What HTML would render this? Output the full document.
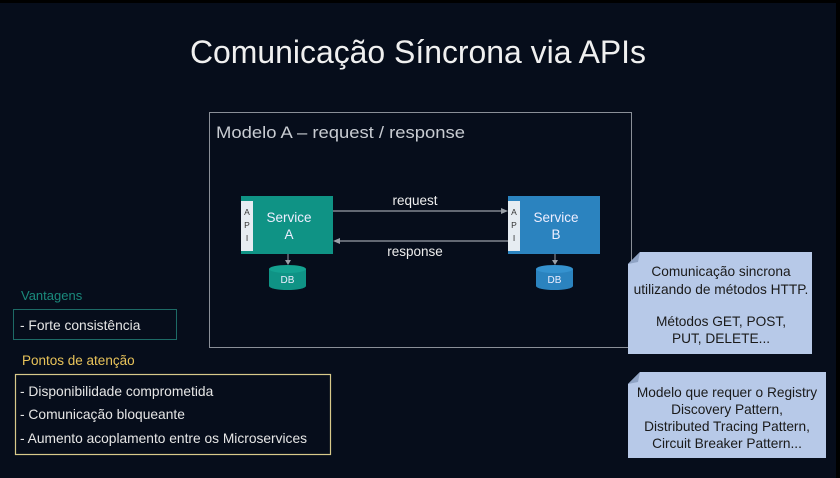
<!DOCTYPE html>
<html><head><meta charset="utf-8"><style>
html,body{margin:0;padding:0;background:#060d1b;}
body{width:840px;height:478px;overflow:hidden;position:relative;font-family:"Liberation Sans","DejaVu Sans",sans-serif;}
</style></head><body>
<svg width="840" height="478" viewBox="0 0 840 478" xmlns="http://www.w3.org/2000/svg" style="position:absolute;left:0;top:0">
<rect x="0" y="0" width="840" height="478" fill="#060d1b"/>
<rect x="0" y="0" width="840" height="3" fill="#000"/>
<rect x="836" y="0" width="4" height="478" fill="#000"/>
<text x="418" y="63" text-anchor="middle" fill="#f0f0f0" font-size="32" textLength="456" lengthAdjust="spacingAndGlyphs">Comunicação Síncrona via APIs</text>
<rect x="209.5" y="112.5" width="422" height="235" fill="none" stroke="#8a8f98" stroke-width="1"/>
<text x="216" y="138" fill="#c8ccd2" font-size="17" textLength="249" lengthAdjust="spacingAndGlyphs">Modelo A – request / response</text>
<rect x="241" y="196" width="92" height="58" fill="#0f9385"/>
<rect x="241" y="201" width="12" height="50" fill="#e6ecf2"/>
<text x="247" y="215" text-anchor="middle" fill="#333" font-size="8.5">A</text>
<text x="247" y="228" text-anchor="middle" fill="#333" font-size="8.5">P</text>
<text x="247" y="241" text-anchor="middle" fill="#333" font-size="8.5">I</text>
<text x="289" y="222" text-anchor="middle" fill="#eef" font-size="13.5">Service</text>
<text x="289" y="239" text-anchor="middle" fill="#eef" font-size="13.5">A</text>
<rect x="508" y="196" width="92" height="58" fill="#2b83bf"/>
<rect x="508" y="201" width="12" height="50" fill="#e6ecf2"/>
<text x="514" y="215" text-anchor="middle" fill="#333" font-size="8.5">A</text>
<text x="514" y="228" text-anchor="middle" fill="#333" font-size="8.5">P</text>
<text x="514" y="241" text-anchor="middle" fill="#333" font-size="8.5">I</text>
<text x="556" y="222" text-anchor="middle" fill="#eef" font-size="13.5">Service</text>
<text x="556" y="239" text-anchor="middle" fill="#eef" font-size="13.5">B</text>
<line x1="333" y1="211" x2="502" y2="211" stroke="#9aa0a8" stroke-width="1.2"/>
<polygon points="508,211 501,208 501,214" fill="#9aa0a8"/>
<text x="415" y="205" text-anchor="middle" fill="#eee" font-size="13.5">request</text>
<line x1="339" y1="241" x2="508" y2="241" stroke="#9aa0a8" stroke-width="1.2"/>
<polygon points="333,241 340,238 340,244" fill="#9aa0a8"/>
<text x="415" y="256" text-anchor="middle" fill="#eee" font-size="13.5">response</text>
<line x1="288" y1="254" x2="288" y2="262" stroke="#9aa0a8"/>
<polygon points="288,265 285,260 291,260" fill="#9aa0a8"/>
<path d="M269,269 v17 a18.5,4 0 0 0 37,0 v-17" fill="#0f9385"/>
<ellipse cx="287.5" cy="269" rx="18.5" ry="4" fill="#14a291"/>
<text x="287.5" y="283" text-anchor="middle" fill="#eef" font-size="10">DB</text>
<line x1="555" y1="254" x2="555" y2="262" stroke="#9aa0a8"/>
<polygon points="555,265 552,260 558,260" fill="#9aa0a8"/>
<path d="M536,269 v17 a18.5,4 0 0 0 37,0 v-17" fill="#2b83bf"/>
<ellipse cx="554.5" cy="269" rx="18.5" ry="4" fill="#3592cf"/>
<text x="554.5" y="283" text-anchor="middle" fill="#eef" font-size="10">DB</text>
<text x="21" y="300" fill="#1a8a7c" font-size="13">Vantagens</text>
<rect x="13.5" y="309.5" width="163" height="30" fill="none" stroke="#1d6a66" stroke-width="1"/>
<text x="20" y="330" fill="#e6e6e6" font-size="13.8">- Forte consistência</text>
<text x="22" y="365" fill="#e8c35a" font-size="13.5">Pontos de atenção</text>
<rect x="15.5" y="374.5" width="315" height="80" fill="none" stroke="#d8c98a" stroke-width="1.2"/>
<text x="20" y="396" fill="#e6e6e6" font-size="13.8">- Disponibilidade comprometida</text>
<text x="20" y="419" fill="#e6e6e6" font-size="13.8">- Comunicação bloqueante</text>
<text x="20" y="443" fill="#e6e6e6" font-size="13.8" textLength="287" lengthAdjust="spacingAndGlyphs">- Aumento acoplamento entre os Microservices</text>
<path d="M640,252 H812 V354 H628 V264 Z" fill="#b7c9e8"/>
<path d="M628,264 L640,252 L638,262 Z" fill="#8fa3c4"/>
<g fill="#1a1a1a" font-size="13.7" text-anchor="middle">
<text x="721" y="276">Comunicação sincrona</text>
<text x="721" y="294">utilizando de métodos HTTP.</text>
<text x="721" y="326">Métodos GET, POST,</text>
<text x="721" y="343">PUT, DELETE...</text>
</g>
<path d="M640,372 H826 V458 H628 V384 Z" fill="#b7c9e8"/>
<path d="M628,384 L640,372 L638,382 Z" fill="#8fa3c4"/>
<g fill="#1a1a1a" font-size="13.7" text-anchor="middle">
<text x="727" y="397">Modelo que requer o Registry</text>
<text x="727" y="414">Discovery Pattern,</text>
<text x="727" y="431">Distributed Tracing Pattern,</text>
<text x="727" y="448">Circuit Breaker Pattern...</text>
</g>
</svg>
</body></html>
